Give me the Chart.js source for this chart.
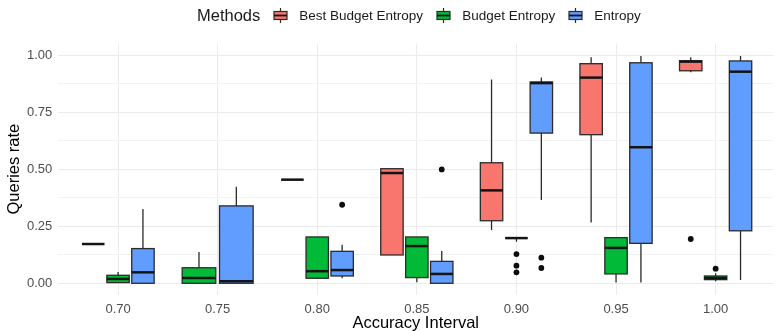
<!DOCTYPE html>
<html>
<head>
<meta charset="utf-8">
<script src="https://cdn.jsdelivr.net/npm/chart.js@4.4.1/dist/chart.umd.min.js"></script>
<style>
  html, body { margin: 0; padding: 0; background: #fff; overflow: hidden; }
  #wrap { position: relative; width: 776px; height: 331px; font-family: 'Liberation Sans', Arial, Helvetica, sans-serif; }
  #chart { position: absolute; left: 0; top: 0; }
  #legend { position: absolute; left: 197px; top: 6px; height: 18px; display: flex; align-items: center; white-space: nowrap; color: #1a1a1a; }
  #legend .title { font-size: 16.5px; }
  #legend .key { margin-left: 13px; display: block; }
  #legend .label { margin-left: 11px; font-size: 13.5px; }
</style>
</head>
<body>
<div id="wrap">
  <canvas id="chart" width="776" height="331"></canvas>
  <div id="legend"></div>
</div>
<script>
// Accuracy intervals on the x axis
const categories = ['0.70', '0.75', '0.80', '0.85', '0.90', '0.95', '1.00'];
const methods = ['Best Budget Entropy', 'Budget Entropy', 'Entropy'];
const methodColors = ['#F8766D', '#00BA38', '#619CFF'];

// Five-number summaries per interval: [lower whisker, Q1, median, Q3, upper whisker]
const bestBudgetEntropy = [
  [0.172, 0.172, 0.172, 0.172, 0.172],
  null,
  [0.454, 0.454, 0.454, 0.454, 0.454],
  [0.124, 0.124, 0.483, 0.502, 0.502],
  [0.233, 0.274, 0.407, 0.528, 0.893],
  [0.266, 0.651, 0.901, 0.962, 0.990],
  [0.924, 0.931, 0.971, 0.975, 0.990]
];
const budgetEntropy = [
  [0.003, 0.003, 0.019, 0.035, 0.049],
  [0.000, 0.000, 0.023, 0.068, 0.137],
  [0.022, 0.022, 0.053, 0.203, 0.203],
  [0.004, 0.025, 0.163, 0.203, 0.203],
  [0.182, 0.198, 0.198, 0.198, 0.198],
  [0.003, 0.041, 0.155, 0.200, 0.200],
  [0.009, 0.016, 0.023, 0.032, 0.044]
];
const entropy = [
  [0.000, 0.000, 0.048, 0.152, 0.325],
  [0.000, 0.000, 0.009, 0.339, 0.423],
  [0.022, 0.032, 0.058, 0.140, 0.169],
  [0.000, 0.000, 0.041, 0.096, 0.141],
  [0.365, 0.658, 0.877, 0.882, 0.902],
  [0.003, 0.175, 0.596, 0.966, 0.996],
  [0.014, 0.230, 0.927, 0.974, 0.996]
];

// Outliers: [interval index, value]
const bestBudgetEntropyOutliers = [[6, 0.194]];
const budgetEntropyOutliers = [[4, 0.128], [4, 0.077], [4, 0.048], [6, 0.064]];
const entropyOutliers = [[2, 0.344], [3, 0.499], [4, 0.112], [4, 0.067]];

const yMajorTicks = [0, 0.25, 0.5, 0.75, 1];
const yMinorTicks = [0.125, 0.375, 0.625, 0.875];

const summaries = [bestBudgetEntropy, budgetEntropy, entropy];
const outliers = [bestBudgetEntropyOutliers, budgetEntropyOutliers, entropyOutliers];

const FONT = "'Liberation Sans', Arial, Helvetica, sans-serif";

// Side-by-side placement of the boxes present in an interval
function dodge(catIndex, methodIndex) {
  const present = summaries.map((s, i) => (s[catIndex] ? i : -1)).filter(i => i >= 0);
  const n = present.length;
  const k = present.indexOf(methodIndex);
  const slot = 0.75 / n;
  return { center: catIndex + (k - (n - 1) / 2) * slot, half: 0.45 * slot };
}

const isMajor = v => yMajorTicks.some(t => Math.abs(t - v) < 1e-9);

// Draws whiskers, boxes and medians through the chart's scales
const boxPlugin = {
  id: 'boxes',
  beforeDatasetsDraw(chart) {
    const { ctx, scales: { x, y } } = chart;
    ctx.save();
    summaries.forEach((series, m) => {
      series.forEach((s, c) => {
        if (!s) return;
        const [lo, q1, med, q3, hi] = s;
        const d = dodge(c, m);
        const cx = x.getPixelForValue(d.center);
        const left = x.getPixelForValue(d.center - d.half);
        const right = x.getPixelForValue(d.center + d.half);
        const yLo = y.getPixelForValue(lo), yQ1 = y.getPixelForValue(q1);
        const yMed = y.getPixelForValue(med), yQ3 = y.getPixelForValue(q3);
        const yHi = y.getPixelForValue(hi);
        ctx.strokeStyle = '#2b2b2b';
        ctx.lineWidth = 1.3;
        ctx.beginPath();
        ctx.moveTo(cx, yQ3); ctx.lineTo(cx, yHi);
        ctx.moveTo(cx, yQ1); ctx.lineTo(cx, yLo);
        ctx.stroke();
        ctx.fillStyle = methodColors[m];
        ctx.fillRect(left, yQ3, right - left, yQ1 - yQ3);
        ctx.strokeRect(left, yQ3, right - left, yQ1 - yQ3);
        ctx.strokeStyle = '#141414';
        ctx.lineWidth = 2.5;
        ctx.beginPath();
        ctx.moveTo(left, yMed); ctx.lineTo(right, yMed);
        ctx.stroke();
      });
    });
    ctx.restore();
  }
};

new Chart(document.getElementById('chart'), {
  type: 'scatter',
  data: {
    datasets: methods.map((name, m) => ({
      label: name,
      data: outliers[m].map(([c, v]) => ({ x: dodge(c, m).center, y: v })),
      pointRadius: 2.9,
      pointHoverRadius: 2.9,
      backgroundColor: '#0d0d0d',
      borderWidth: 0
    }))
  },
  options: {
    responsive: false,
    animation: false,
    devicePixelRatio: 1,
    layout: { padding: { top: 43.6, left: 0, right: 0, bottom: 0 } },
    plugins: { legend: { display: false }, tooltip: { enabled: false } },
    scales: {
      x: {
        type: 'linear',
        min: -0.6,
        max: 6.577,
        afterBuildTicks: s => { s.ticks = categories.map((_, i) => ({ value: i })); },
        afterFit: s => { s.height = 36.3; },
        grid: { color: '#ebebeb', lineWidth: 1, drawTicks: false },
        border: { display: false },
        ticks: {
          autoSkip: false, maxRotation: 0, padding: 6.5, color: '#4d4d4d',
          font: { family: FONT, size: 13 },
          callback: v => categories[v] ?? ''
        },
        title: {
          display: true, text: 'Accuracy Interval', color: '#000',
          font: { family: FONT, size: 16.5, lineHeight: 1 },
          padding: { top: 0, bottom: -0.5 }
        }
      },
      y: {
        min: -0.05,
        max: 1.05,
        afterBuildTicks: s => {
          s.ticks = yMajorTicks.concat(yMinorTicks).sort((a, b) => a - b).map(v => ({ value: v }));
        },
        afterFit: s => { s.width = 58.3; },
        grid: {
          color: c => (isMajor(c.tick.value) ? '#ebebeb' : '#f2f2f2'),
          lineWidth: 1,
          drawTicks: false
        },
        border: { display: false },
        ticks: {
          autoSkip: false, padding: 6, color: '#4d4d4d',
          font: { family: FONT, size: 13 },
          callback: v => (isMajor(v) ? v.toFixed(2) : '')
        },
        title: {
          display: true, text: 'Queries rate', color: '#000',
          font: { family: FONT, size: 16.5, lineHeight: 1 },
          padding: { top: 6, bottom: 0 }
        }
      }
    }
  },
  plugins: [boxPlugin]
});

// Legend: title followed by a boxplot key for each method
const legend = document.getElementById('legend');
const title = document.createElement('span');
title.className = 'title';
title.textContent = 'Methods';
legend.appendChild(title);
methods.forEach((name, m) => {
  const svgNS = 'http://www.w3.org/2000/svg';
  const svg = document.createElementNS(svgNS, 'svg');
  svg.setAttribute('class', 'key');
  svg.setAttribute('width', '15');
  svg.setAttribute('height', '17');
  svg.innerHTML =
    '<line x1="7.5" y1="1" x2="7.5" y2="16" stroke="#2b2b2b" stroke-width="1.2"/>' +
    '<rect x="1" y="4.5" width="13" height="8" fill="' + methodColors[m] + '" stroke="#2b2b2b" stroke-width="1.2"/>' +
    '<line x1="1" y1="8.5" x2="14" y2="8.5" stroke="#141414" stroke-width="1.8"/>';
  legend.appendChild(svg);
  const label = document.createElement('span');
  label.className = 'label';
  label.textContent = name;
  legend.appendChild(label);
});
</script>
</body>
</html>
